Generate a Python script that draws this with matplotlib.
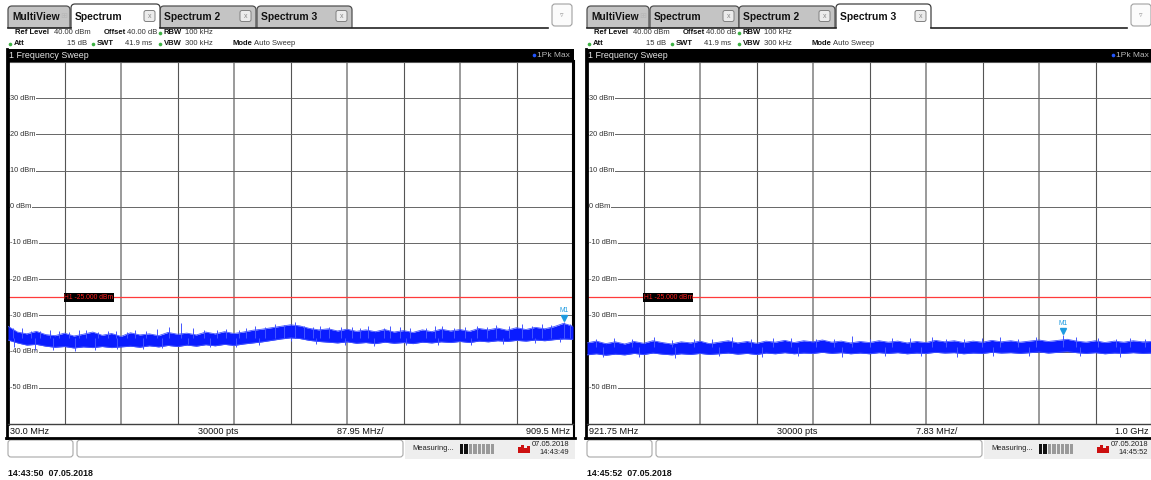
import numpy as np
import matplotlib
matplotlib.use("Agg")
import matplotlib.pyplot as plt
from matplotlib.patches import FancyBboxPatch, Rectangle
from matplotlib.transforms import blended_transform_factory

plt.rcParams['font.family'] = ['Liberation Sans', 'DejaVu Sans']

# ---------------- data ----------------
level_ticks = [30, 20, 10, 0, -10, -20, -30, -40, -50]
level_labels = ["30 dBm", "20 dBm", "10 dBm", "0 dBm", "-10 dBm",
                "-20 dBm", "-30 dBm", "-40 dBm", "-50 dBm"]
ref_level = 40
bottom_level = -60
h1_limit = -25.0
tab_names = ["MultiView", "Spectrum", "Spectrum 2", "Spectrum 3"]

# left sweep: 30 MHz .. 909.5 MHz
span_left = [30.0, 909.5]
freq_left = [30.0, 44.7, 59.3, 74.0, 88.6, 103.3, 117.9, 132.6, 147.3, 161.9,
             176.6, 191.2, 205.9, 220.6, 235.2, 249.9, 264.5, 279.2, 293.8, 308.5,
             323.2, 337.8, 352.5, 367.1, 381.8, 396.5, 411.1, 425.8, 440.4, 455.1,
             469.8, 484.4, 499.1, 513.7, 528.4, 543.0, 557.7, 572.4, 587.0, 601.7,
             616.3, 631.0, 645.7, 660.3, 675.0, 689.6, 704.3, 718.9, 733.6, 748.3,
             762.9, 777.6, 792.2, 806.9, 821.6, 836.2, 850.9, 865.5, 880.2, 894.8, 909.5]
upper_left = [-33.0, -34.6, -35.1, -34.4, -35.3, -35.6, -34.9, -35.7, -35.2, -34.6,
              -35.5, -35.0, -35.8, -34.8, -35.4, -35.1, -35.6, -34.7, -35.2, -34.9,
              -35.4, -34.6, -35.1, -34.5, -35.0, -34.6, -34.1, -33.8, -33.4, -33.0,
              -32.6, -32.9, -33.6, -34.0, -33.7, -34.3, -33.8, -34.4, -34.0, -34.5,
              -33.9, -34.6, -34.2, -34.7, -34.0, -34.5, -33.8, -34.3, -33.9, -34.4,
              -33.6, -34.0, -33.5, -34.1, -33.4, -33.9, -33.3, -33.7, -33.1, -32.2, -33.0]
lower_left = [-36.8, -37.6, -38.2, -38.0, -38.5, -38.8, -38.6, -39.0, -38.7, -38.9,
              -38.6, -38.9, -38.7, -38.5, -38.8, -38.4, -38.7, -38.3, -38.6, -38.2,
              -38.5, -38.1, -38.4, -38.0, -38.3, -37.9, -37.6, -37.3, -36.9, -36.5,
              -36.2, -36.4, -36.9, -37.2, -37.4, -37.6, -37.3, -37.7, -37.5, -37.8,
              -37.4, -37.7, -37.5, -37.8, -37.4, -37.6, -37.3, -37.5, -37.2, -37.5,
              -37.1, -37.3, -37.0, -37.2, -36.9, -37.1, -36.8, -37.0, -36.7, -36.5, -36.6]
# upward noise spikes (frequency, peak level)
spike_up_freq_left = [38, 52, 66, 80, 95, 110, 125, 140, 152, 170, 185, 198, 215, 228,
                      245, 262, 280, 300, 318, 335, 355, 370, 390, 400, 415, 430, 445,
                      460, 476, 490, 505, 515, 530, 548, 565, 578, 590, 615, 625, 640,
                      655, 680, 695, 705, 725, 742, 760, 775, 790, 810, 830, 845, 862,
                      875, 895.97, 905]
spike_up_top_left = [-33.5, -33.6, -34.4, -34.2, -34.0, -34.3, -34.6, -33.9, -34.1, -34.5,
                     -34.2, -34.3, -34.6, -34.0, -34.2, -33.8, -33.2, -32.2, -33.6, -33.9,
                     -33.9, -33.7, -33.9, -33.4, -33.0, -33.1, -32.5, -32.6, -31.9, -32.9,
                     -33.2, -32.8, -33.3, -33.2, -33.2, -33.6, -33.0, -33.4, -32.9, -33.3,
                     -33.6, -33.5, -33.0, -32.8, -33.5, -33.1, -32.9, -33.3, -32.7, -32.8,
                     -32.5, -32.9, -32.4, -32.6, -31.92, -32.5]
spike_up_base_left = -36.3
# downward noise spikes (frequency, dip level)
spike_dn_freq_left = [40, 72, 100, 135, 165, 200, 240, 270, 310, 345, 385, 420, 470,
                      510, 555, 600, 650, 700, 750, 800, 850, 890]
spike_dn_bot_left = [-38.6, -39.5, -39.6, -39.7, -39.5, -39.4, -39.3, -39.0, -37.8, -38.6,
                     -38.8, -38.3, -37.1, -38.0, -38.3, -38.5, -38.3, -38.2, -38.1, -37.9,
                     -37.7, -37.4]
spike_dn_top_left = -36.3
marker_left = [895.97, -31.92]

# right sweep: 921.75 MHz .. 1.0 GHz
span_right = [921.75, 1000.0]
freq_right = [921.75, 923.05, 924.36, 925.66, 926.97, 928.27, 929.58, 930.88, 932.18, 933.49,
              934.79, 936.10, 937.40, 938.70, 940.01, 941.31, 942.62, 943.92, 945.23, 946.53,
              947.83, 949.14, 950.44, 951.75, 953.05, 954.35, 955.66, 956.96, 958.27, 959.57,
              960.88, 962.18, 963.48, 964.79, 966.09, 967.40, 968.70, 970.00, 971.31, 972.61,
              973.92, 975.22, 976.52, 977.83, 979.13, 980.44, 981.74, 983.05, 984.35, 985.65,
              986.96, 988.26, 989.57, 990.87, 992.17, 993.48, 994.78, 996.09, 997.39, 998.70, 1000.0]
upper_right = [-37.6, -37.1, -37.8, -37.3, -37.9, -37.2, -37.7, -37.0, -37.5, -37.9,
               -37.3, -37.6, -37.1, -37.8, -37.4, -37.0, -37.6, -37.2, -37.7, -37.1,
               -37.4, -36.9, -37.5, -37.0, -37.3, -36.8, -37.4, -37.1, -37.6, -37.2,
               -37.5, -37.0, -37.4, -37.1, -37.6, -37.2, -37.5, -36.9, -37.3, -37.0,
               -37.5, -37.1, -37.4, -36.9, -37.3, -37.0, -37.4, -37.1, -36.8, -37.2,
               -36.9, -36.6, -37.1, -37.4, -37.0, -37.5, -37.1, -37.4, -37.0, -37.3, -37.2]
lower_right = [-40.9, -40.6, -41.0, -40.7, -40.9, -40.5, -40.8, -40.4, -40.7, -40.9,
               -40.6, -40.8, -40.5, -40.8, -40.6, -40.4, -40.7, -40.5, -40.8, -40.4,
               -40.6, -40.3, -40.6, -40.4, -40.5, -40.2, -40.5, -40.3, -40.6, -40.4,
               -40.6, -40.3, -40.5, -40.3, -40.6, -40.4, -40.5, -40.2, -40.4, -40.3,
               -40.6, -40.4, -40.5, -40.2, -40.4, -40.3, -40.5, -40.3, -40.1, -40.4,
               -40.2, -40.0, -40.3, -40.5, -40.3, -40.6, -40.4, -40.5, -40.3, -40.5, -40.4]
spike_up_freq_right = [923.0, 925.5, 928.0, 931.0, 933.5, 936.5, 939.0, 941.8, 944.5, 947.5,
                       950.0, 953.5, 956.0, 958.5, 961.0, 964.0, 966.5, 969.5, 971.5, 974.0,
                       976.5, 979.0, 981.5, 984.0, 987.69, 989.5, 992.5, 995.0, 997.0, 999.0]
spike_up_top_right = [-36.6, -36.3, -36.4, -36.1, -36.7, -36.5, -36.5, -35.9, -36.6, -36.2,
                      -36.3, -36.4, -36.5, -35.8, -36.6, -36.3, -36.2, -36.0, -36.5, -36.4,
                      -36.3, -36.1, -36.4, -36.0, -35.53, -36.1, -36.3, -36.4, -36.2, -36.6]
spike_up_base_right = -38.8
spike_dn_freq_right = [924.0, 929.0, 934.0, 940.0, 946.0, 951.0, 957.0, 963.0, 968.0,
                       973.0, 978.0, 983.0, 990.0, 995.5]
spike_dn_bot_right = [-41.6, -41.4, -41.7, -41.3, -41.5, -41.2, -41.4, -41.3, -41.2,
                      -41.5, -41.1, -41.3, -41.2, -41.4]
spike_dn_top_right = -38.8
marker_right = [987.69, -35.53]

# ---------------- figure ----------------
W, H = 1151, 480
fig = plt.figure(figsize=(W / 100, H / 100), dpi=100)
fig.patch.set_facecolor("white")
bg = fig.add_axes([0, 0, 1, 1])
bg.set_xlim(0, W)
bg.set_ylim(H, 0)
bg.axis("off")

TRACE = "#0a1cff"
EDGE = "#4455ff"
MK = "#1e9be0"


def px_axes(x0, y0, x1, y1):
    return fig.add_axes([x0 / W, 1 - y1 / H, (x1 - x0) / W, (y1 - y0) / H])


def rbox(x, y, w, h, fc, ec, r=3, lw=0.8, z=2):
    p = FancyBboxPatch((x, y), w, h, boxstyle=f"round,pad=0,rounding_size={r}",
                       fc=fc, ec=ec, lw=lw, zorder=z)
    bg.add_patch(p)


def draw_panel(ox, active, span, f, up, lo, su_f, su_t, su_b, sd_f, sd_b, sd_t,
               mk, m_label_x, m_freq_text, flabels, status_time, stamp):
    # ---- tabs ----
    tab_x = [(8, 70), (71, 160), (160, 256), (257, 352)]
    order = [i for i in range(4) if i != active] + [active]
    for i in order:
        x0, x1 = tab_x[i]
        if i == active:
            rbox(ox + x0, 4, x1 - x0, 30, "white", "#404040", r=4, lw=0.9, z=3)
        else:
            rbox(ox + x0, 6, x1 - x0, 26, "#c4c4c4", "#505050", r=4, lw=0.9, z=2)
        bg.text(ox + x0 + 4, 16.5, tab_names[i], fontsize=7.4, fontweight="bold",
                color="#111111", va="center", ha="left", zorder=5)
        if i == 0:
            bg.text(ox + x1 - 6, 16.5, "\u229E", fontsize=6, color="#b8b8b8",
                    va="center", ha="center", zorder=5)
        else:
            rbox(ox + x1 - 16, 10.5, 11, 11, "#ececec", "#808080", r=2, lw=0.7, z=5)
            bg.text(ox + x1 - 10.5, 16, "x", fontsize=5, color="#888888",
                    va="center", ha="center", zorder=6)
    bg.add_patch(Rectangle((ox + 6, 28), 570, 21, fc="white", ec="none", zorder=4))
    ax0, ax1 = tab_x[active]
    bg.plot([ox + 8, ox + ax0], [27.5, 27.5], color="#222222", lw=1.2, zorder=5)
    bg.plot([ox + ax1, ox + 548], [27.5, 27.5], color="#222222", lw=1.2, zorder=5)
    # dropdown button
    rbox(ox + 552, 4, 20, 22, "#fbfbfb", "#a0a0a0", r=3, lw=0.8, z=5)
    bg.text(ox + 562, 15, "\u25BF", fontsize=5, color="#909090", va="center",
            ha="center", zorder=6)

    # ---- setting lines ----
    fs = 5.5
    row1, row2 = 33, 43.5
    items = [
        (15, row1, "Ref Level", True, "left"), (54, row1, "40.00 dBm", False, "left"),
        (104, row1, "Offset", True, "left"), (127, row1, "40.00 dB", False, "left"),
        (164, row1, "RBW", True, "left"), (185, row1, "100 kHz", False, "left"),
        (14, row2, "Att", True, "left"), (87, row2, "15 dB", False, "right"),
        (97, row2, "SWT", True, "left"), (152, row2, "41.9 ms", False, "right"),
        (164, row2, "VBW", True, "left"), (185, row2, "300 kHz", False, "left"),
        (233, row2, "Mode", True, "left"), (254, row2, "Auto Sweep", False, "left"),
    ]
    for x, y, t, b, ha in items:
        bg.text(ox + x, y, t, fontsize=fs, fontweight="bold" if b else "normal",
                color="#111111" if b else "#333333", va="center", ha=ha, zorder=6)
    for x, y in [(160.5, row1), (10, row2), (93, row2), (160.5, row2)]:
        bg.plot(ox + x, y, "o", ms=2.6, color="#3cb043", mec="none", zorder=6)

    # ---- black title bar ----
    bg.add_patch(Rectangle((ox + 7, 49), 567, 12.5, fc="black", ec="none", zorder=6))
    bg.text(ox + 9, 55.3, "1 Frequency Sweep", fontsize=6.4, color="#e6e6e6",
            va="center", ha="left", zorder=7)
    bg.plot(ox + 534, 55.3, "o", ms=2.6, color="#2255ff", mec="none", zorder=7)
    bg.text(ox + 570, 55.3, "1Pk Max", fontsize=6, color="#b8b8b8",
            va="center", ha="right", zorder=7)

    # ---- plot area ----
    ax = px_axes(ox + 8, 62, ox + 573, 424)
    ax.set_xlim(span[0], span[1])
    ax.set_ylim(bottom_level, ref_level)
    ax.set_xticks([])
    ax.set_yticks([])
    ax.spines["top"].set_visible(False)
    ax.spines["left"].set_linewidth(2.0)
    ax.spines["left"].set_color("black")
    ax.spines["right"].set_linewidth(1.5)
    ax.spines["right"].set_color("black")
    ax.spines["bottom"].set_linewidth(1.0)
    ax.spines["bottom"].set_color("#404040")
    ax.set_facecolor("white")
    div = (span[1] - span[0]) / 10
    for k in range(1, 10):
        if k % 2 == 1:
            ax.axvline(span[0] + k * div, color="#555555", lw=0.8, zorder=1)
        else:
            ax.axvline(span[0] + k * div, color="#9a9a9a", lw=1.4, zorder=1)
    ax.axhline(ref_level, color="#555555", lw=0.8, zorder=1)
    tr = blended_transform_factory(ax.transAxes, ax.transData)
    for lev, lab in zip(level_ticks, level_labels):
        ax.axhline(lev, color="#666666", lw=0.7, zorder=1)
        ax.text(0.004, lev, lab, transform=tr, fontsize=5.3, color="#333333",
                va="center", ha="left", zorder=3,
                bbox=dict(fc="white", ec="none", pad=0.4))
    # limit line
    ax.axhline(h1_limit, color="#ff3b3b", lw=0.9, zorder=2)
    ax.text(0.1, h1_limit, "H1 -25.000 dBm", transform=tr, fontsize=4.9,
            color="#ff2020", va="center", ha="left", zorder=6,
            bbox=dict(fc="black", ec="none", pad=0.6))
    # trace
    ax.fill_between(f, lo, up, color=TRACE, lw=0, zorder=4)
    ax.plot(f, up, color=EDGE, lw=0.6, zorder=4)
    ax.plot(f, lo, color=EDGE, lw=0.6, zorder=4)
    ax.vlines(su_f, su_b, su_t, color=EDGE, lw=0.7, zorder=4)
    ax.vlines(sd_f, sd_b, sd_t, color=EDGE, lw=0.7, zorder=4)
    # marker
    ax.plot(mk[0], mk[1] + 1.3, marker="v", ms=4, color=MK, mec=MK, zorder=5)
    ax.text(mk[0], mk[1] + 3.4, "M1", fontsize=4.8, color=MK, ha="center",
            va="center", zorder=5)
    # marker readout
    bg.text(ox + m_label_x, 68.5, "M1[1]", fontsize=6.4, color=MK, ha="right",
            va="center", zorder=8)
    bg.text(ox + 571, 68.5, "%.2f dBm" % mk[1], fontsize=6.4, color=MK, ha="right",
            va="center", zorder=8)
    bg.text(ox + 571, 82, m_freq_text, fontsize=6.4, color=MK, ha="right",
            va="center", zorder=8)

    # ---- bottom axis bar ----
    bg.text(ox + 10, 431, flabels[0], fontsize=6.6, color="#111111", ha="left", va="center")
    bg.text(ox + 218, 431, flabels[1], fontsize=6.6, color="#111111", ha="center", va="center")
    bg.text(ox + 337, 431, flabels[2], fontsize=6.6, color="#111111", ha="left", va="center")
    bg.text(ox + 570, 431, flabels[3], fontsize=6.6, color="#111111", ha="right", va="center")
    bg.plot([ox + 7, ox + 7], [49, 438], color="black", lw=2.0, zorder=7)
    bg.plot([ox + 574, ox + 574], [61, 438], color="black", lw=1.5, zorder=7)
    bg.plot([ox + 6, ox + 575], [437.5, 437.5], color="black", lw=2.0, zorder=7)

    # ---- status bar ----
    bg.add_patch(Rectangle((ox + 405, 439), 170, 20, fc="#eeeeee", ec="none", zorder=1))
    rbox(ox + 8, 440, 65, 17, "white", "#a8a8a8", r=3, lw=0.8, z=2)
    rbox(ox + 77, 440, 326, 17, "white", "#a8a8a8", r=3, lw=0.8, z=2)
    bg.text(ox + 412, 449, "Measuring...", fontsize=5.4, color="#222222",
            ha="left", va="center", zorder=3)
    for s in range(8):
        c = "#111111" if s < 2 else "#9a9a9a"
        bg.add_patch(Rectangle((ox + 460 + s * 4.4, 444), 3.4, 10, fc=c, ec="none", zorder=3))
    for dx, hh in [(0, 6), (3, 8), (6, 5), (9, 7)]:
        bg.add_patch(Rectangle((ox + 518 + dx, 453 - hh), 2.6, hh, fc="#cc1010",
                               ec="none", zorder=3))
    bg.text(ox + 569, 444, "07.05.2018", fontsize=5.4, color="#222222",
            ha="right", va="center", zorder=3)
    bg.text(ox + 569, 453, status_time, fontsize=5.4, color="#222222",
            ha="right", va="center", zorder=3)

    # ---- timestamp ----
    bg.text(ox + 8, 473, stamp, fontsize=6.4, fontweight="bold", color="#111111",
            ha="left", va="center")


draw_panel(0, 1, span_left, freq_left, upper_left, lower_left,
           spike_up_freq_left, spike_up_top_left, spike_up_base_left,
           spike_dn_freq_left, spike_dn_bot_left, spike_dn_top_left, marker_left,
           515, "895.9700 MHz", ["30.0 MHz", "30000 pts", "87.95 MHz/", "909.5 MHz"],
           "14:43:49", "14:43:50  07.05.2018")
draw_panel(579, 3, span_right, freq_right, upper_right, lower_right,
           spike_up_freq_right, spike_up_top_right, spike_up_base_right,
           spike_dn_freq_right, spike_dn_bot_right, spike_dn_top_right, marker_right,
           509, "987.69000 MHz", ["921.75 MHz", "30000 pts", "7.83 MHz/", "1.0 GHz"],
           "14:45:52", "14:45:52  07.05.2018")

fig.savefig("out.png", dpi=100, facecolor="white")
